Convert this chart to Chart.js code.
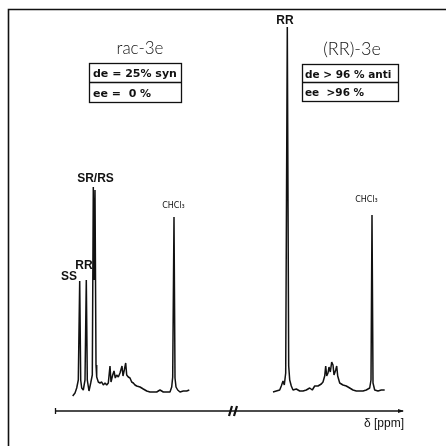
<!DOCTYPE html>
<html>
<head>
<meta charset="utf-8">
<script src="https://cdn.jsdelivr.net/npm/chart.js@4.4.1/dist/chart.umd.min.js"></script>
<style>
  html, body { margin: 0; padding: 0; background: #fff; }
  #wrap { width: 446px; height: 446px; }
</style>
</head>
<body>
<div id="wrap"><canvas id="nmr" width="446" height="446"></canvas></div>
<script>
// rac-3e spectrum (position along the trace, intensity above baseline)
const racShift = [72.7, 75, 76.7, 78.3, 79.7, 80.7, 81.7, 83.3, 85, 86.3, 87.3, 89, 90.7, 92.3, 93.3, 94.1, 95, 96, 96.7,
  98.3, 100, 101.7, 103.3, 105, 106.7, 108.3, 110, 111, 112.7, 114, 115.3, 116.7, 118.3, 120, 122, 123, 124.3, 125.7,
  126.7, 128.3, 130, 131.7, 133.3, 135, 136.7, 140, 143.3, 146.7, 150, 153.3, 156.7, 160, 163.3, 166.7, 170, 171.7,
  172.7, 174, 175, 176, 177.7, 180, 183.3, 186.7, 189.3];
const racInt = [-6, -3, 2, 10, 109, 10, 2, 0, 10, 110, 10, -1, 7, 15, 203, 110, 200, 25, 13,
  8, 7, 8, 5, 7, 5, 7, 24, 8, 15, 19, 12, 15, 13, 17, 24, 14, 20, 27,
  15, 13, 12, 8, 7, 5, 4, 3, 1, -1, -2, -2, -2, 0, -2, -2, -2, 3,
  13, 173, 12, 3, 0, -2, -1, -1, 0];

// (RR)-3e spectrum
const rrShift = [273, 276.3, 279.7, 281.3, 283, 284.3, 285.7, 287.3, 288.7, 289.7, 291.3, 293, 296.3, 299.7, 303, 306.3,
  309.7, 312.3, 314.7, 318, 321.3, 323, 324.7, 325.7, 326.7, 328, 329, 330.3, 331.7, 333, 334, 335.7, 336.7, 337.7,
  339.7, 343, 346.3, 349.7, 353, 356.3, 359.7, 363, 366.3, 369.7, 371, 372, 373, 374.7, 378, 381.3, 384.7];
const rrInt = [-2, -1, 0, 4, 9, 5, 17, 363, 24, 10, 4, 0, 1, -1, -1, 0,
  2, 0, 4, 4, 6, 8, 14, 24, 14, 17, 23, 18, 28, 25, 15, 20, 24, 14,
  7, 5, 4, 2, 0, -1, -1, -1, 0, 2, 10, 175, 7, 0, -1, 0, 0];

const toPoints = (xs, ys) => xs.map((x, i) => ({ x: x, y: ys[i] }));

const ink = '#111';

const decor = {
  id: 'decor',
  beforeDraw(chart) {
    const c = chart.ctx;
    c.save();
    c.fillStyle = '#fff';
    c.fillRect(0, 0, chart.width, chart.height);
    c.restore();
  },
  afterDatasetsDraw(chart) {
    const c = chart.ctx;
    const xs = chart.scales.x, ys = chart.scales.y;
    const X = v => xs.getPixelForValue(v), Y = v => ys.getPixelForValue(v);
    c.save();
    c.strokeStyle = ink;
    c.fillStyle = ink;

    // frame (left and top only)
    c.lineWidth = 1.6;
    c.beginPath();
    c.moveTo(8.5, 446); c.lineTo(8.5, 9.5); c.lineTo(446, 9.5);
    c.stroke();

    // delta axis
    c.lineWidth = 1.3;
    c.beginPath();
    c.moveTo(55, 411); c.lineTo(403, 411);
    c.stroke();
    c.beginPath();
    c.moveTo(55.5, 408); c.lineTo(55.5, 414);
    c.stroke();
    c.beginPath();
    c.moveTo(404, 411); c.lineTo(398, 409); c.lineTo(398, 413); c.closePath();
    c.fill();
    // axis break
    c.lineWidth = 2.2;
    c.beginPath();
    c.moveTo(232, 406); c.lineTo(229, 416);
    c.moveTo(237, 406); c.lineTo(234, 416);
    c.stroke();

    c.textBaseline = 'alphabetic';
    c.font = '12px "Liberation Sans", Arial, sans-serif';
    c.textAlign = 'left';
    c.fillText('\u03b4 [ppm]', 364, 427);

    // sample titles
    c.font = '300 17px Lato, "DejaVu Sans", sans-serif';
    c.textAlign = 'center';
    c.fillText('rac-3e', 140, 54);
    c.font = '300 18px Lato, "DejaVu Sans", sans-serif';
    c.fillText('(RR)-3e', 352, 55);

    // result boxes
    c.lineWidth = 1.3;
    c.strokeRect(89.5, 63.5, 92, 39);
    c.beginPath(); c.moveTo(89.5, 82.5); c.lineTo(181.5, 82.5); c.stroke();
    c.strokeRect(302.5, 64.5, 96, 37);
    c.beginPath(); c.moveTo(302.5, 82.5); c.lineTo(398.5, 82.5); c.stroke();

    c.font = 'bold 11px "DejaVu Sans", sans-serif';
    c.textAlign = 'left';
    c.fillText('de = 25% syn', 93, 77);
    c.fillText('ee =  0 %', 93, 97);
    c.font = 'bold 10.5px "DejaVu Sans", sans-serif';
    c.fillText('de > 96 % anti', 305, 78);
    c.fillText('ee  >96 %', 305, 96);

    // peak labels
    c.font = 'bold 12px "Liberation Sans", Arial, sans-serif';
    c.textAlign = 'center';
    c.fillText('SS', X(69), Y(109) - 1);
    c.fillText('RR', X(84), Y(121));
    c.fillText('SR/RS', X(95.5), Y(208));
    c.fillText('RR', X(285), Y(366));

    c.font = '8px "DejaVu Sans", sans-serif';
    c.fillText('CHCl\u2083', X(173.5), Y(182));
    c.fillText('CHCl\u2083', X(366.5), Y(188));
    c.restore();
  }
};

new Chart(document.getElementById('nmr'), {
  type: 'scatter',
  data: {
    datasets: [
      { label: 'rac-3e', data: toPoints(racShift, racInt), showLine: true },
      { label: '(RR)-3e', data: toPoints(rrShift, rrInt), showLine: true }
    ]
  },
  options: {
    responsive: false,
    animation: false,
    layout: { padding: 0 },
    elements: {
      point: { radius: 0, hoverRadius: 0 },
      line: { borderColor: ink, borderWidth: 1.5, tension: 0, borderJoinStyle: 'bevel' }
    },
    scales: {
      x: { type: 'linear', min: 0, max: 446, display: false },
      y: { type: 'linear', min: -56, max: 390, display: false }
    },
    plugins: {
      legend: { display: false },
      tooltip: { enabled: false }
    }
  },
  plugins: [decor]
});
</script>
</body>
</html>
